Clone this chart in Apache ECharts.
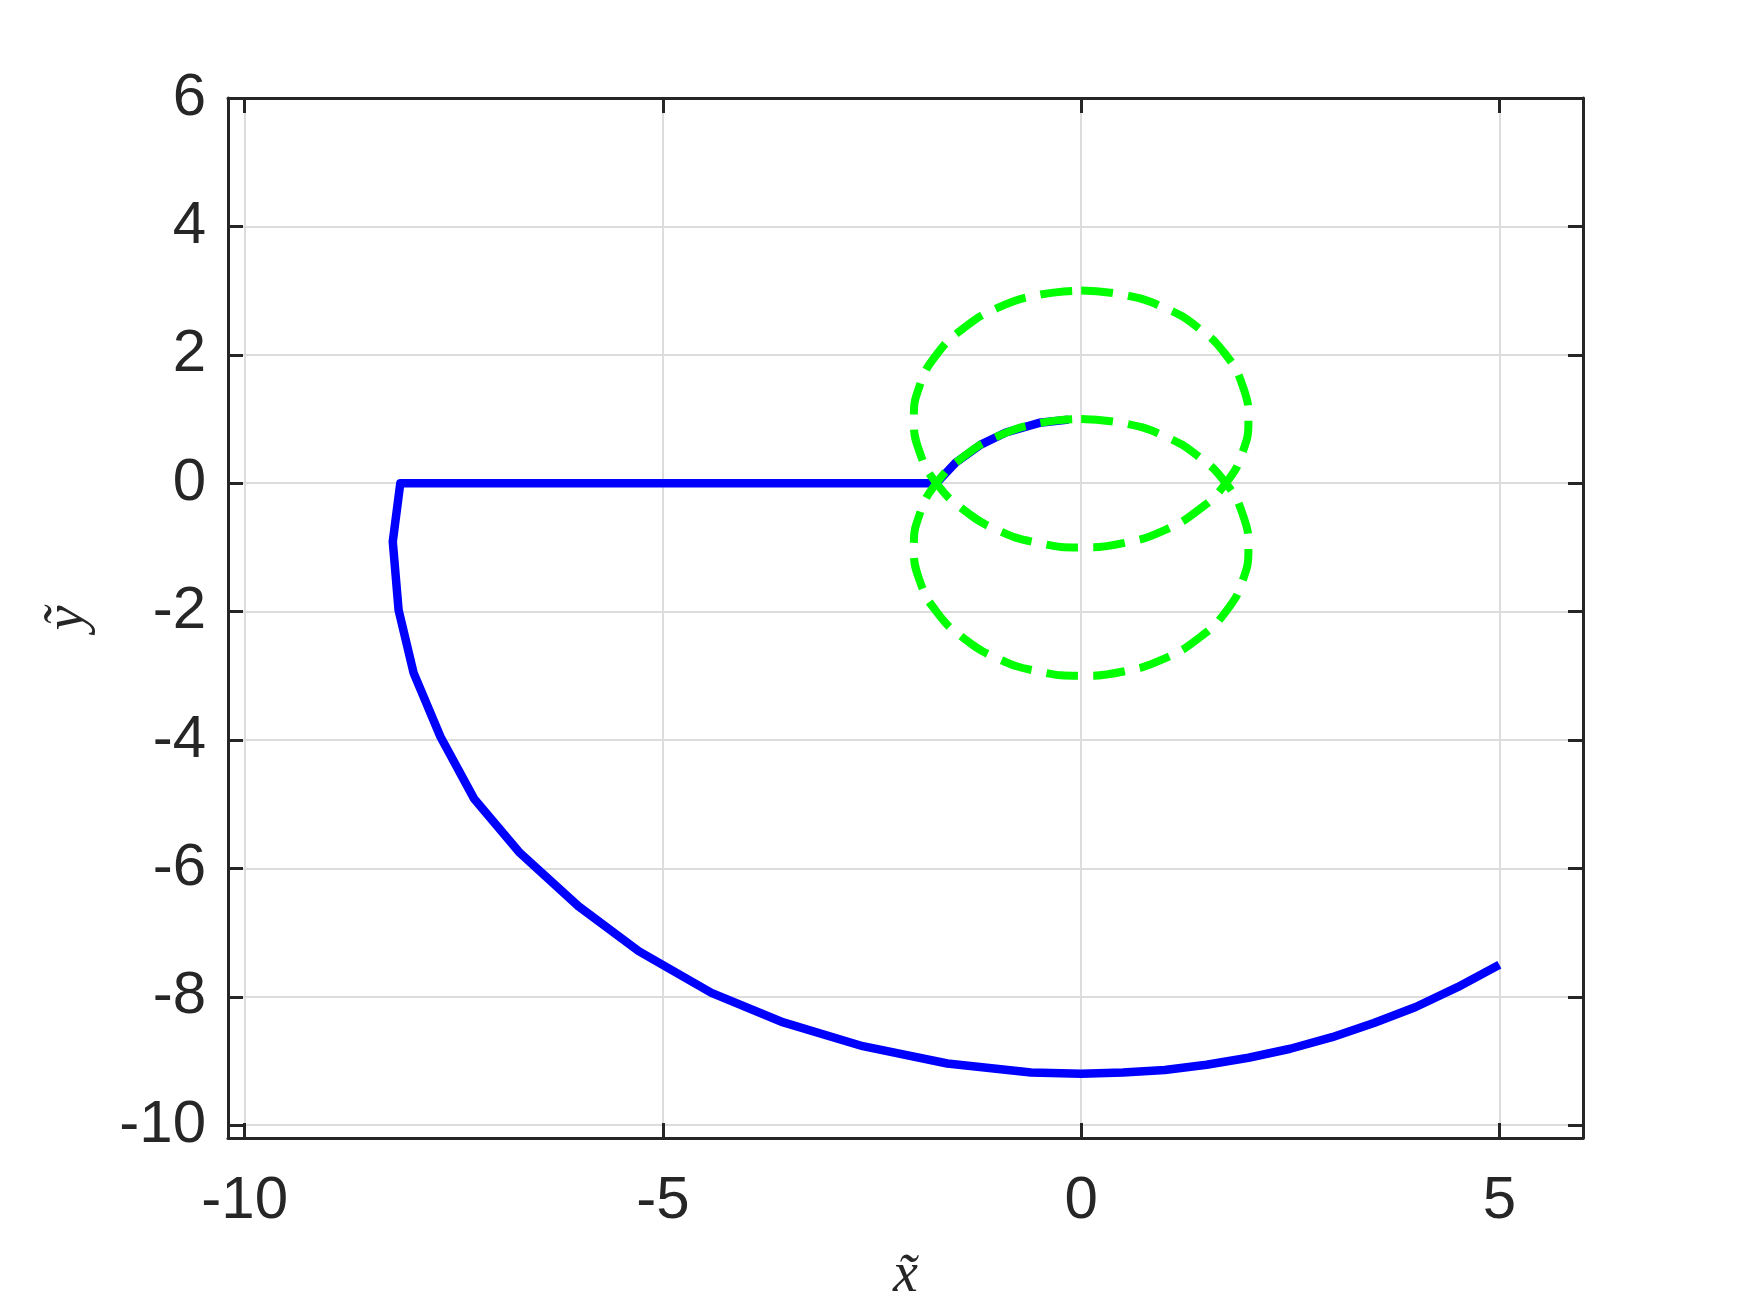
<!DOCTYPE html>
<html>
<head>
<meta charset="utf-8">
<script src="https://cdn.jsdelivr.net/npm/echarts@6/dist/echarts.min.js"></script>
<style>
  html, body { margin: 0; padding: 0; background: #fff; }
  #chart { width: 1750px; height: 1313px; }
</style>
</head>
<body>
<div id="chart"></div>
<script>
// tick labels
const xTicks = [-10, -5, 0, 5]
const yTicks = [-10, -8, -6, -4, -2, 0, 2, 4, 6]

// blue trajectory
const pathX = [5.0, 4.5, 4.0, 3.5, 3.0, 2.5, 2.0, 1.5, 1.0, 0.5, 0.0, -0.6, -1.6, -2.61, -3.56, -4.42, -5.29, -6.01, -6.71, -7.26, -7.66, -7.98, -8.16, -8.23, -8.14, -1.73, -1.5, -1.2, -0.9, -0.5, -0.15]
const pathY = [-7.5, -7.85, -8.16, -8.41, -8.63, -8.81, -8.95, -9.06, -9.14, -9.18, -9.2, -9.18, -9.04, -8.77, -8.4, -7.94, -7.29, -6.59, -5.76, -4.91, -3.95, -2.96, -1.98, -0.91, 0, 0, 0.32, 0.6, 0.79, 0.94, 0.99]

// green dashed circles (upper and lower)
const upperX = [0, 0.52, 1, 1.41, 1.73, 1.93, 2, 1.93, 1.73, 1.41, 1, 0.52, 0, -0.52, -1, -1.41, -1.73, -1.93, -2, -1.93, -1.73, -1.41, -1, -0.52, 0]
const upperY = [3, 2.93, 2.73, 2.41, 2, 1.52, 1, 0.48, 0, -0.41, -0.73, -0.93, -1, -0.93, -0.73, -0.41, 0, 0.48, 1, 1.52, 2, 2.41, 2.73, 2.93, 3]
const lowerX = [0, 0.52, 1, 1.41, 1.73, 1.93, 2, 1.93, 1.73, 1.41, 1, 0.52, 0, -0.52, -1, -1.41, -1.73, -1.93, -2, -1.93, -1.73, -1.41, -1, -0.52, 0]
const lowerY = [1, 0.93, 0.73, 0.41, 0, -0.48, -1, -1.52, -2, -2.41, -2.73, -2.93, -3, -2.93, -2.73, -2.41, -2, -1.52, -1, -0.48, 0, 0.41, 0.73, 0.93, 1]

const zip = (xs, ys) => xs.map((x, i) => [x, ys[i]])

const axisColor = '#262626'
const labelFont = '"Liberation Sans", Arial, sans-serif'
const titleFont = '"Liberation Serif", "DejaVu Serif", serif'

function xAxisOpt (pos, showLabel) {
  return {
    type: 'value',
    position: pos,
    min: -10.2,
    max: 6,
    axisLine: { show: true, onZero: false, lineStyle: { color: axisColor, width: 3 } },
    axisTick: { show: true, inside: true, length: 15, customValues: xTicks, lineStyle: { color: axisColor, width: 3 } },
    axisLabel: {
      show: showLabel,
      customValues: xTicks,
      margin: 33,
      color: axisColor,
      fontSize: 60,
      fontFamily: labelFont
    },
    splitLine: { show: showLabel, lineStyle: { color: '#dcdcdc', width: 2 } },
    name: showLabel ? 'x\u0303' : '',
    nameLocation: 'middle',
    nameGap: 110,
    nameTextStyle: { fontSize: 56, fontStyle: 'italic', fontFamily: titleFont, color: axisColor }
  }
}

function yAxisOpt (pos, showLabel) {
  return {
    type: 'value',
    position: pos,
    min: -10.2,
    max: 6,
    axisLine: { show: true, onZero: false, lineStyle: { color: axisColor, width: 3 } },
    axisTick: { show: true, inside: true, length: 15, customValues: yTicks, lineStyle: { color: axisColor, width: 3 } },
    axisLabel: {
      show: showLabel,
      customValues: yTicks,
      margin: 22,
      color: axisColor,
      fontSize: 60,
      fontFamily: labelFont
    },
    splitLine: { show: showLabel, lineStyle: { color: '#dcdcdc', width: 2 } },
    name: showLabel ? 'y\u0303' : '',
    nameLocation: 'middle',
    nameGap: 132,
    nameRotate: 90,
    nameTextStyle: { fontSize: 56, fontStyle: 'italic', fontFamily: titleFont, color: axisColor }
  }
}

const chart = echarts.init(document.getElementById('chart'))
chart.setOption({
  backgroundColor: '#ffffff',
  animation: false,
  grid: { left: 228, right: 167, top: 98, bottom: 175 },
  xAxis: [xAxisOpt('bottom', true), xAxisOpt('top', false)],
  yAxis: [yAxisOpt('left', true), yAxisOpt('right', false)],
  series: [
    {
      type: 'line',
      data: zip(pathX, pathY),
      showSymbol: false,
      lineStyle: { color: '#0000ff', width: 8.5, join: 'round' },
      z: 3
    },
    {
      type: 'line',
      data: zip(upperX, upperY),
      showSymbol: false,
      smooth: true,
      lineStyle: { color: '#00ff00', width: 8, type: [32, 15], cap: 'butt' },
      z: 4
    },
    {
      type: 'line',
      data: zip(lowerX, lowerY),
      showSymbol: false,
      smooth: true,
      lineStyle: { color: '#00ff00', width: 8, type: [32, 15], cap: 'butt' },
      z: 4
    }
  ]
})
</script>
</body>
</html>
